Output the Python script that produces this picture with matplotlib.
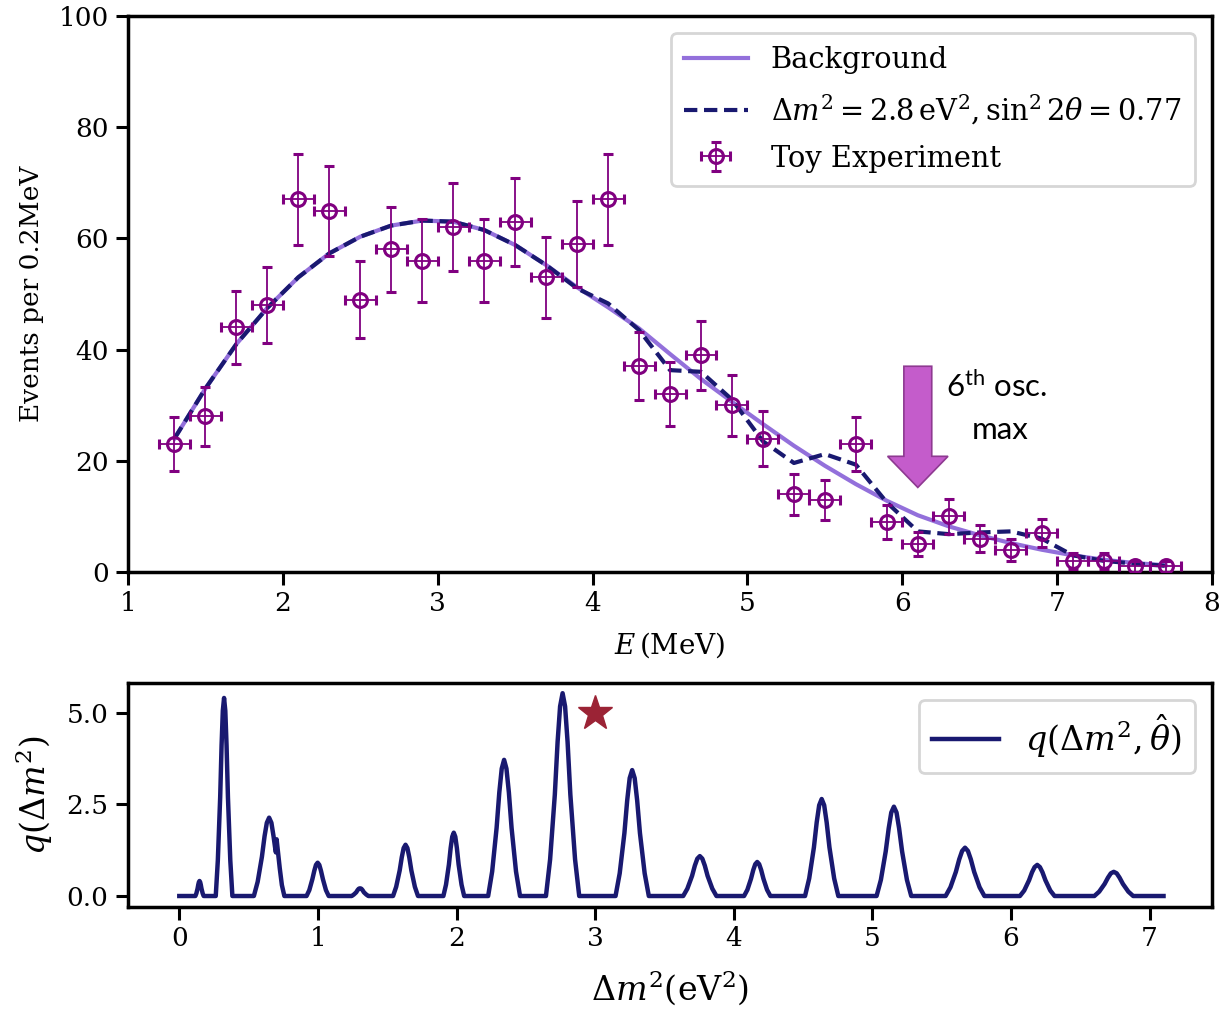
import numpy as np
import matplotlib
matplotlib.use("Agg")
import matplotlib.pyplot as plt

plt.rcParams['font.family'] = ['DejaVu Serif']
plt.rcParams['mathtext.fontset'] = 'dejavuserif'

# energy spectrum, 0.2 MeV bins
energy = [1.3, 1.5, 1.7, 1.9, 2.1, 2.3, 2.5, 2.7, 2.9, 3.1, 3.3, 3.5, 3.7, 3.9, 4.1, 4.3, 4.5,
          4.7, 4.9, 5.1, 5.3, 5.5, 5.7, 5.9, 6.1, 6.3, 6.5, 6.7, 6.9, 7.1, 7.3, 7.5, 7.7]
background = [24, 33, 41, 47.5, 53, 57.3, 60.3, 62.3, 63.2, 63, 61.5, 58.8, 55.2, 51.2, 47.6, 43.8, 39.2,
              34.7, 30.6, 26.6, 22.7, 19.1, 15.8, 12.8, 10.2, 8.2, 6.6, 5.2, 4.0, 3.0, 2.2, 1.6, 1.2]
oscillated = [24, 33, 41, 47.5, 53, 57.3, 60.3, 62.3, 63.2, 63, 61.5, 58.8, 55.2, 51.0, 48.3, 43.5, 36.3,
              36.0, 31.0, 23.5, 19.6, 21.2, 19.3, 12.5, 7.3, 6.8, 7.1, 7.3, 6.0, 3.0, 2.0, 1.5, 1.1]
toy_counts = [23, 28, 44, 48, 67, 65, 49, 58, 56, 62, 56, 63, 53, 59, 67, 37, 32,
              39, 30, 24, 14, 13, 23, 9, 5, 10, 6, 4, 7, 2, 2, 1, 1]
toy_err = [4.8, 5.3, 6.6, 6.9, 8.2, 8.1, 7.0, 7.6, 7.5, 7.9, 7.5, 7.9, 7.3, 7.7, 8.2, 6.1, 5.7,
           6.2, 5.5, 4.9, 3.7, 3.6, 4.8, 3.0, 2.2, 3.2, 2.4, 2.0, 2.6, 1.4, 1.4, 1.0, 1.0]
bin_half = 0.1

# test statistic scan over dm2 (one row per peak)
q_dm2 = [0.0,
         0.116, 0.1235, 0.132, 0.137, 0.1415, 0.146, 0.1505, 0.155, 0.160, 0.1685, 0.176,
         0.263, 0.278, 0.295, 0.305, 0.314, 0.323, 0.332, 0.341, 0.351, 0.368, 0.383,
         0.538, 0.5655, 0.596, 0.615, 0.6315, 0.648, 0.6645, 0.680, 0.692, 0.697, 0.702, 0.712, 0.725, 0.740, 0.758,
         0.918, 0.938, 0.960, 0.974, 0.986, 0.998, 1.010, 1.022, 1.036, 1.058, 1.078,
         1.244, 1.259, 1.276, 1.286, 1.295, 1.304, 1.313, 1.322, 1.332, 1.349, 1.364,
         1.542, 1.5645, 1.590, 1.605, 1.6185, 1.632, 1.6455, 1.659, 1.674, 1.6995, 1.722,
         1.905, 1.924, 1.945, 1.9575, 1.969, 1.980, 1.991, 2.0025, 2.015, 2.036, 2.055,
         2.228, 2.257, 2.289, 2.3085, 2.326, 2.343, 2.360, 2.3775, 2.397, 2.429, 2.458,
         2.645, 2.675, 2.709, 2.729, 2.747, 2.765, 2.783, 2.801, 2.821, 2.855, 2.885,
         3.147, 3.177, 3.211, 3.231, 3.249, 3.267, 3.285, 3.303, 3.323, 3.357, 3.387,
         3.635, 3.665, 3.699, 3.719, 3.737, 3.755, 3.773, 3.791, 3.811, 3.845, 3.875,
         4.074, 4.098, 4.124, 4.1405, 4.155, 4.169, 4.183, 4.1975, 4.214, 4.240, 4.264,
         4.514, 4.544, 4.578, 4.598, 4.616, 4.634, 4.652, 4.670, 4.690, 4.724, 4.754,
         5.030, 5.061, 5.096, 5.1175, 5.136, 5.155, 5.174, 5.1925, 5.214, 5.249, 5.280,
         5.528, 5.563, 5.602, 5.626, 5.647, 5.668, 5.689, 5.710, 5.734, 5.773, 5.808,
         6.064, 6.095, 6.130, 6.1515, 6.170, 6.189, 6.208, 6.2265, 6.248, 6.283, 6.314,
         6.601, 6.636, 6.675, 6.699, 6.720, 6.741, 6.762, 6.783, 6.807, 6.846, 6.881,
         7.1]
q_val = [0.0,
         0, 0.074, 0.205, 0.31, 0.38, 0.41, 0.38, 0.31, 0.205, 0.074, 0,
         0, 0.97, 2.70, 4.11, 5.06, 5.41, 5.06, 4.11, 2.70, 0.97, 0,
         0, 0.39, 1.07, 1.63, 2.00, 2.14, 2.00, 1.63, 1.30, 1.19, 1.55, 1.20, 0.75, 0.30, 0,
         0, 0.16, 0.46, 0.69, 0.85, 0.91, 0.85, 0.69, 0.46, 0.16, 0,
         0, 0.04, 0.10, 0.16, 0.20, 0.21, 0.20, 0.16, 0.10, 0.04, 0,
         0, 0.25, 0.70, 1.06, 1.31, 1.40, 1.31, 1.06, 0.70, 0.25, 0,
         0, 0.31, 0.86, 1.31, 1.62, 1.73, 1.62, 1.31, 0.86, 0.31, 0,
         0, 0.67, 1.86, 2.83, 3.48, 3.72, 3.48, 2.83, 1.86, 0.67, 0,
         0, 1.00, 2.77, 4.21, 5.18, 5.54, 5.18, 4.21, 2.77, 1.00, 0,
         0, 0.62, 1.72, 2.61, 3.22, 3.44, 3.22, 2.61, 1.72, 0.62, 0,
         0, 0.20, 0.55, 0.83, 1.02, 1.09, 1.02, 0.83, 0.55, 0.20, 0,
         0, 0.17, 0.47, 0.71, 0.87, 0.93, 0.87, 0.71, 0.47, 0.17, 0,
         0, 0.48, 1.33, 2.01, 2.48, 2.65, 2.48, 2.01, 1.33, 0.48, 0,
         0, 0.44, 1.22, 1.85, 2.28, 2.44, 2.28, 1.85, 1.22, 0.44, 0,
         0, 0.24, 0.66, 1.00, 1.23, 1.32, 1.23, 1.00, 0.66, 0.24, 0,
         0, 0.15, 0.43, 0.65, 0.79, 0.85, 0.79, 0.65, 0.43, 0.15, 0,
         0, 0.12, 0.33, 0.50, 0.62, 0.66, 0.62, 0.50, 0.33, 0.12, 0,
         0.0]
best_fit = (3.0, 5.0)

fig = plt.figure(figsize=(12.19, 10.23), dpi=100)
ax = fig.add_axes([0.105, 0.4409, 0.8893, 0.5435])
ax2 = fig.add_axes([0.105, 0.1134, 0.8893, 0.219])

# --- spectrum panel
ax.plot(energy, background, color='#9370DB', lw=3, label='Background', zorder=2)
ax.plot(energy, oscillated, color='#191970', lw=3, ls=(0, (3.2, 1.6)),
        label=r'$\Delta m^2 = 2.8\,\mathrm{eV}^2, \sin^2 2\theta = 0.77$', zorder=3)
ax.errorbar(energy, toy_counts, yerr=toy_err, xerr=bin_half, fmt='o', color='#800080',
            mfc='none', mec='#800080', ms=10, mew=2.2, elinewidth=1.3, capsize=3.5, capthick=3.5,
            label='Toy Experiment', zorder=4)

ax.arrow(6.1, 37.0, 0, -21.8, width=0.18, head_width=0.39, head_length=5.6,
         length_includes_head=True, fc='#C45CCB', ec='#8E3A91', lw=1.2, zorder=5)
ax.text(6.28, 33.4, r'6$^{\mathregular{th}}$ osc.', fontsize=22.5, family=['Lato', 'DejaVu Sans'],
        ha='left', va='center')
ax.text(6.63, 25.5, 'max', fontsize=22.5, family=['Lato', 'DejaVu Sans'],
        ha='center', va='center')

ax.set_xlim(1, 8)
ax.set_ylim(0, 100)
ax.set_xticks(range(1, 9))
ax.set_yticks(range(0, 101, 20))
ax.set_xlabel(r'$E\,(\mathrm{MeV})$', fontsize=20, labelpad=10)
ax.set_ylabel('Events per 0.2MeV', fontsize=19, labelpad=10)
leg = ax.legend(loc='upper right', fontsize=20.8, handlelength=2.2, borderpad=0.45,
                labelspacing=0.62, framealpha=0.8, edgecolor='#cccccc', borderaxespad=0.6)
leg.get_frame().set_linewidth(2)

# --- q scan panel
ax2.plot(q_dm2, q_val, color='#191970', lw=3.2, label=r'$q(\Delta m^2,\hat{\theta})$')
ax2.plot(*best_fit, marker='*', ms=26, color='#9B2335', mec='#9B2335', ls='none')
ax2.set_xlim(-0.37, 7.45)
ax2.set_ylim(-0.3, 5.82)
ax2.set_xticks(range(0, 8))
ax2.set_yticks([0.0, 2.5, 5.0])
ax2.set_yticklabels(['0.0', '2.5', '5.0'])
ax2.set_xlabel(r'$\Delta m^2(\mathrm{eV}^2)$', fontsize=24, labelpad=12)
ax2.set_ylabel(r'$q(\Delta m^2)$', fontsize=24, labelpad=8)
leg2 = ax2.legend(loc='upper right', fontsize=24, handlelength=2.0, borderpad=0.4,
                  framealpha=0.8, edgecolor='#cccccc', borderaxespad=0.5)
leg2.get_frame().set_linewidth(2)

for a in (ax, ax2):
    for s in a.spines.values():
        s.set_linewidth(2.5)
    a.tick_params(direction='out', length=9, width=2.2, pad=5, labelsize=19)

fig.savefig('out.png', dpi=100)
